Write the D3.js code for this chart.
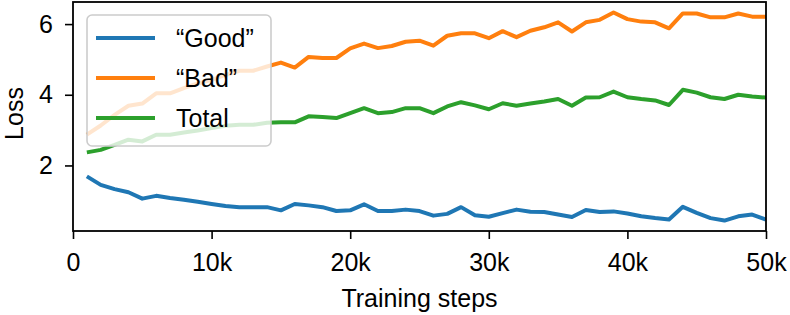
<!DOCTYPE html>
<html>
<head>
<meta charset="utf-8">
<script src="https://cdn.jsdelivr.net/npm/d3@7"></script>
<style>
  body { margin: 0; background: #fff; }
  text { font-family: "Liberation Sans", Arial, Helvetica, sans-serif; fill: #000; }
</style>
</head>
<body>
<div id="chart"></div>
<script>
// training steps, in thousands
const steps = d3.range(1, 51).map(k => k * 1000);

const goodLoss = [1.69, 1.45, 1.33, 1.24, 1.06, 1.14, 1.08, 1.03, 0.97, 0.91,
  0.85, 0.82, 0.82, 0.82, 0.73, 0.91, 0.87, 0.82, 0.71, 0.73,
  0.90, 0.71, 0.71, 0.75, 0.71, 0.58, 0.63, 0.82, 0.59, 0.55,
  0.65, 0.75, 0.69, 0.68, 0.61, 0.54, 0.74, 0.68, 0.70, 0.64,
  0.56, 0.51, 0.47, 0.83, 0.66, 0.51, 0.44, 0.56, 0.61, 0.47];

const badLoss = [2.87, 3.13, 3.43, 3.69, 3.75, 4.04, 4.04, 4.19, 4.32, 4.42,
  4.56, 4.68, 4.68, 4.80, 4.91, 4.77, 5.07, 5.04, 5.04, 5.31,
  5.45, 5.32, 5.38, 5.50, 5.53, 5.39, 5.67, 5.74, 5.74, 5.60,
  5.80, 5.63, 5.81, 5.91, 6.05, 5.79, 6.05, 6.12, 6.33, 6.14,
  6.07, 6.05, 5.88, 6.30, 6.30, 6.19, 6.19, 6.30, 6.21, 6.21];

const totalLoss = [2.37, 2.44, 2.58, 2.73, 2.68, 2.87, 2.87, 2.93, 2.99, 3.06,
  3.12, 3.15, 3.15, 3.21, 3.22, 3.22, 3.39, 3.37, 3.34, 3.48,
  3.62, 3.48, 3.51, 3.62, 3.62, 3.48, 3.67, 3.79, 3.70, 3.59,
  3.76, 3.69, 3.75, 3.81, 3.88, 3.69, 3.92, 3.93, 4.09, 3.93,
  3.88, 3.84, 3.71, 4.14, 4.06, 3.93, 3.88, 4.00, 3.95, 3.92];

const seriesNames = ['\u201cGood\u201d', '\u201cBad\u201d', 'Total'];
const seriesColors = ['#1f77b4', '#ff7f0e', '#2ca02c'];
const xTicks = [0, 10000, 20000, 30000, 40000, 50000];
const xTickLabels = ['0', '10k', '20k', '30k', '40k', '50k'];
const yTicks = [2, 4, 6];

const W = 790, H = 315;
const margin = { top: 2, right: 24, bottom: 84, left: 73 };
const width = W - margin.left - margin.right;
const height = H - margin.top - margin.bottom;

const svg = d3.select('#chart')
  .append('svg')
  .attr('width', W)
  .attr('height', H);

const g = svg.append('g')
  .attr('transform', `translate(${margin.left},${margin.top})`);

g.append('defs')
  .append('clipPath')
  .attr('id', 'plot-clip')
  .append('rect')
  .attr('width', width)
  .attr('height', height);

const x = d3.scaleLinear().domain([0, 50000]).range([0, width]);
const y = d3.scaleLinear().domain([0.145, 6.625]).range([height, 0]);

const line = d3.line()
  .x((d, i) => x(steps[i]))
  .y(d => y(d));

const allSeries = [goodLoss, badLoss, totalLoss];

g.append('g')
  .attr('clip-path', 'url(#plot-clip)')
  .selectAll('path')
  .data(allSeries)
  .enter()
  .append('path')
  .attr('d', d => line(d))
  .attr('fill', 'none')
  .attr('stroke', (d, i) => seriesColors[i])
  .attr('stroke-width', 4)
  .attr('stroke-linejoin', 'round');

// axes
const xAxis = g.append('g')
  .attr('transform', `translate(0,${height})`)
  .call(d3.axisBottom(x).tickValues(xTicks).tickSize(8).tickPadding(14)
    .tickFormat((d, i) => xTickLabels[i]));

const yAxis = g.append('g')
  .call(d3.axisLeft(y).tickValues(yTicks).tickSize(8).tickPadding(12)
    .tickFormat(d3.format('d')));

[xAxis, yAxis].forEach(ax => {
  ax.select('.domain').remove();
  ax.selectAll('.tick line').attr('stroke', '#000').attr('stroke-width', 1.6);
  ax.selectAll('.tick text').attr('font-size', 25).attr('fill', '#000');
});
xAxis.selectAll('.tick text').attr('dy', '0.71em');

// frame
g.append('rect')
  .attr('width', width)
  .attr('height', height)
  .attr('fill', 'none')
  .attr('stroke', '#000')
  .attr('stroke-width', 1.8);

// labels
svg.append('text')
  .attr('x', margin.left + width / 2)
  .attr('y', 307)
  .attr('text-anchor', 'middle')
  .attr('font-size', 25)
  .text('Training steps');

svg.append('text')
  .attr('transform', `translate(23,${margin.top + height / 2 - 3}) rotate(-90)`)
  .attr('text-anchor', 'middle')
  .attr('font-size', 25)
  .text('Loss');

// legend
const legend = g.append('g').attr('transform', 'translate(14,13)');

legend.append('rect')
  .attr('width', 184)
  .attr('height', 131)
  .attr('rx', 5)
  .attr('fill', '#fff')
  .attr('fill-opacity', 0.8)
  .attr('stroke', '#cccccc')
  .attr('stroke-width', 1.6);

const item = legend.selectAll('.item')
  .data(seriesNames)
  .enter()
  .append('g')
  .attr('transform', (d, i) => `translate(0,${23 + i * 40})`);

item.append('line')
  .attr('x1', 9)
  .attr('x2', 68)
  .attr('stroke', (d, i) => seriesColors[i])
  .attr('stroke-width', 4);

item.append('text')
  .attr('x', 89)
  .attr('dy', '0.36em')
  .attr('font-size', 25)
  .text(d => d);
</script>
</body>
</html>
